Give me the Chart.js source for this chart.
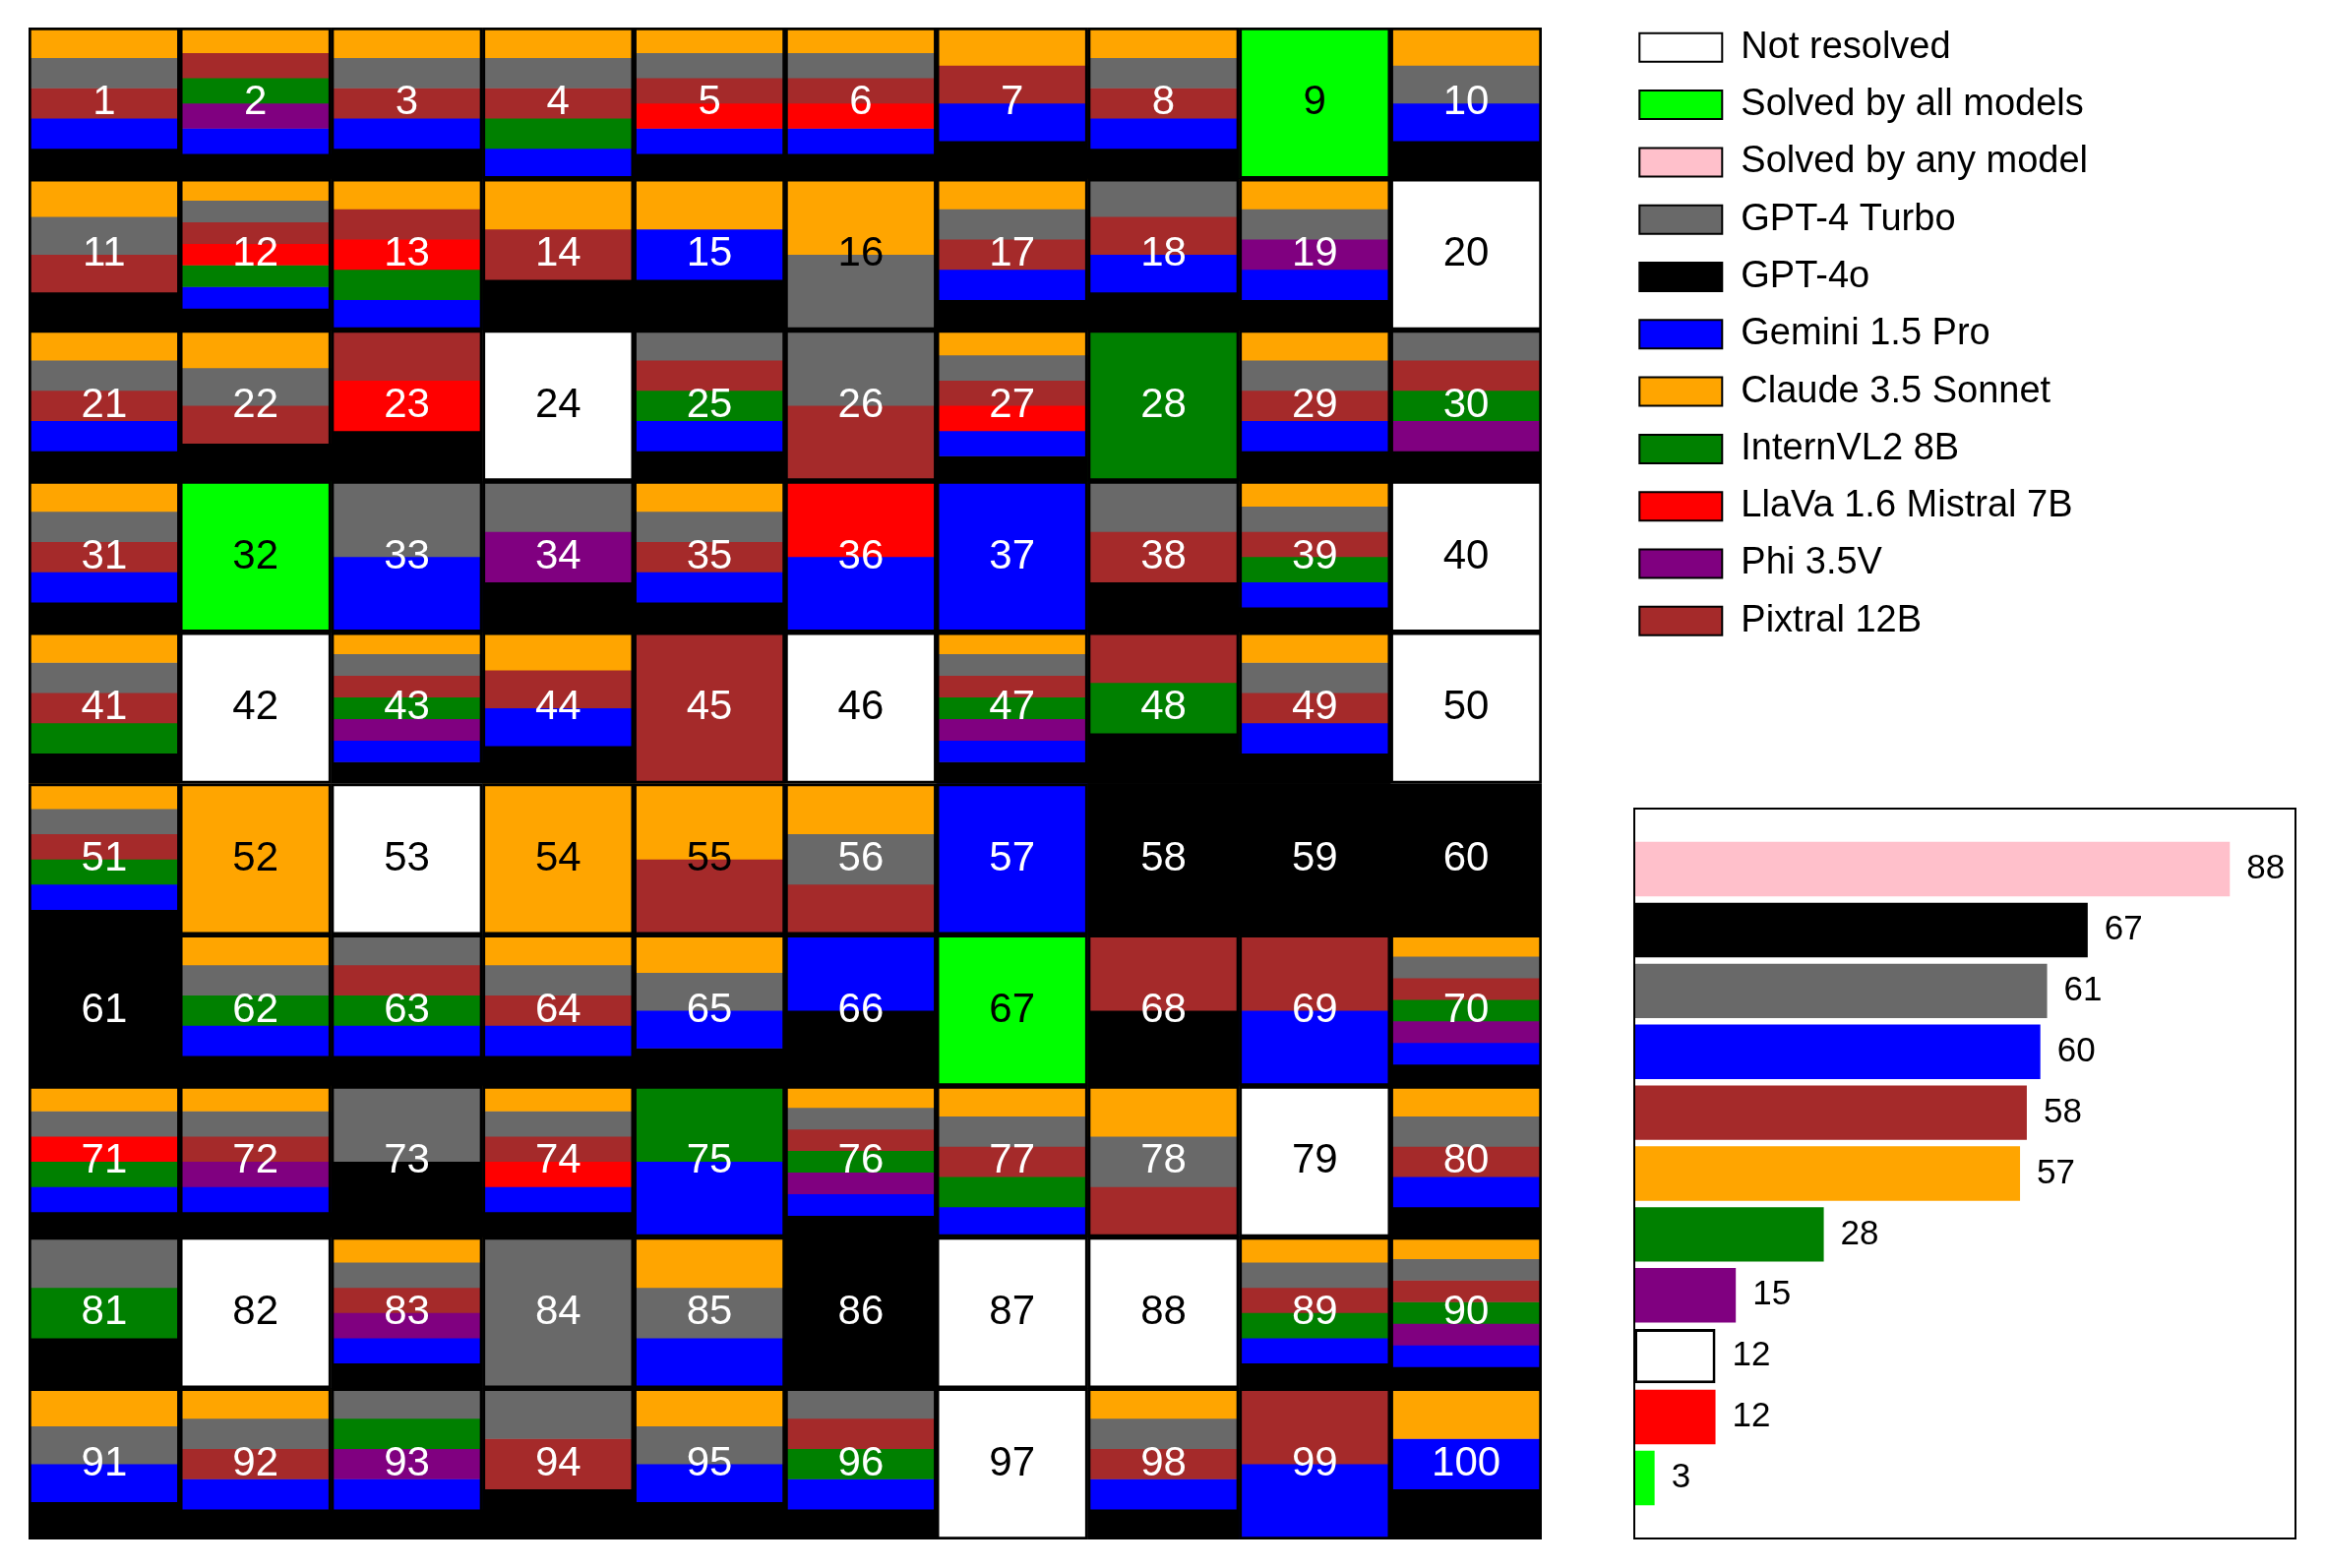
<!DOCTYPE html>
<html>
<head>
<meta charset="utf-8">
<title>Tasks solved per model</title>
<script src="https://cdn.jsdelivr.net/npm/chart.js@4.4.1/dist/chart.umd.min.js"></script>
<style>
  html, body { margin: 0; padding: 0; background: #fff; overflow: hidden; }
  #page { position: relative; width: 2363px; height: 1594px; }
  canvas { position: absolute; }
  #gridChart { left: 0; top: 0; }
  #legendChart { left: 1646px; top: 9px; }
  #countChart { left: 1640px; top: 780px; }
</style>
</head>
<body>
<div id="page">
  <canvas id="gridChart" width="1600" height="1594"></canvas>
  <canvas id="legendChart" width="717" height="720"></canvas>
  <canvas id="countChart" width="723" height="814"></canvas>
</div>
<script>
// grid: 100 tasks, 10 per row
const taskCount = 100;
const colLabels = ['1', '2', '3', '4', '5', '6', '7', '8', '9', '10'];

// order of the stripes inside a cell, top to bottom
const stripeOrder = ['Claude 3.5 Sonnet', 'GPT-4 Turbo', 'Pixtral 12B', 'LlaVa 1.6 Mistral 7B',
  'InternVL2 8B', 'Phi 3.5V', 'Gemini 1.5 Pro', 'GPT-4o'];

// tasks solved by each model
const solvedClaude = [1, 2, 3, 4, 5, 6, 7, 8, 9, 10, 11, 12, 13, 14, 15, 16, 17, 19, 21, 22, 27, 29,
  31, 32, 35, 39, 41, 43, 44, 47, 49, 51, 52, 54, 55, 56, 62, 64, 65, 67, 70, 71, 72, 74, 76, 77, 78, 80,
  83, 85, 89, 90, 91, 92, 95, 98, 100];
const solvedGpt4Turbo = [1, 3, 4, 5, 6, 8, 9, 10, 11, 12, 16, 17, 18, 19, 21, 22, 25, 26, 27, 29, 30,
  31, 32, 33, 34, 35, 38, 39, 41, 43, 47, 49, 51, 56, 62, 63, 64, 65, 67, 70, 71, 72, 73, 74, 76, 77, 78, 80,
  81, 83, 84, 85, 89, 90, 91, 92, 93, 94, 95, 96, 98];
const solvedPixtral = [1, 2, 3, 4, 5, 6, 7, 8, 9, 11, 12, 13, 14, 17, 18, 21, 22, 23, 25, 26, 27, 29, 30,
  31, 32, 35, 38, 39, 41, 43, 44, 45, 47, 48, 49, 51, 55, 56, 63, 64, 67, 68, 69, 70, 72, 74, 76, 77, 78, 80,
  83, 89, 90, 92, 94, 96, 98, 99];
const solvedLlava = [5, 6, 9, 12, 13, 23, 27, 32, 36, 67, 71, 74];
const solvedIntern = [2, 4, 9, 12, 13, 25, 28, 30, 32, 39, 41, 43, 47, 48, 51, 62, 63, 67, 70, 71, 75, 76,
  77, 81, 89, 90, 93, 96];
const solvedPhi = [2, 9, 19, 30, 32, 34, 43, 47, 67, 70, 72, 76, 83, 90, 93];
const solvedGemini = [1, 2, 3, 4, 5, 6, 7, 8, 9, 10, 12, 13, 15, 17, 18, 19, 21, 25, 27, 29, 31, 32, 33,
  35, 36, 37, 39, 43, 44, 47, 49, 51, 57, 62, 63, 64, 65, 66, 67, 69, 70, 71, 72, 74, 75, 76, 77, 80, 83, 85,
  89, 90, 91, 92, 93, 95, 96, 98, 99, 100];
const solvedGpt4o = [1, 2, 3, 5, 6, 7, 8, 9, 10, 11, 12, 14, 15, 17, 18, 19, 21, 22, 23, 25, 27, 29, 30,
  31, 32, 34, 35, 38, 39, 41, 43, 44, 47, 48, 49, 51, 58, 59, 60, 61, 62, 63, 64, 65, 66, 67, 68, 70, 71, 72,
  73, 74, 76, 80, 81, 83, 86, 89, 90, 91, 92, 93, 94, 95, 96, 98, 100];

// legend entries
const legendNames = ['Not resolved', 'Solved by all models', 'Solved by any model', 'GPT-4 Turbo', 'GPT-4o',
  'Gemini 1.5 Pro', 'Claude 3.5 Sonnet', 'InternVL2 8B', 'LlaVa 1.6 Mistral 7B', 'Phi 3.5V', 'Pixtral 12B'];

// summary bars
const countNames = ['Solved by any model', 'GPT-4o', 'GPT-4 Turbo', 'Gemini 1.5 Pro', 'Pixtral 12B',
  'Claude 3.5 Sonnet', 'InternVL2 8B', 'Phi 3.5V', 'Not resolved', 'LlaVa 1.6 Mistral 7B', 'Solved by all models'];
const countValues = [88, 67, 61, 60, 58, 57, 28, 15, 12, 12, 3];

const colors = {
  'Not resolved': '#ffffff',
  'Solved by all models': '#00ff00',
  'Solved by any model': '#ffc0cb',
  'GPT-4 Turbo': '#696969',
  'GPT-4o': '#000000',
  'Gemini 1.5 Pro': '#0000ff',
  'Claude 3.5 Sonnet': '#ffa500',
  'InternVL2 8B': '#008000',
  'LlaVa 1.6 Mistral 7B': '#ff0000',
  'Phi 3.5V': '#800080',
  'Pixtral 12B': '#a52a2a'
};
const darkText = ['#ffffff', '#00ff00', '#ffa500'];

Chart.defaults.font.family = '"Liberation Sans", sans-serif';
Chart.defaults.color = '#000';

const solvedBy = {
  'Claude 3.5 Sonnet': solvedClaude,
  'GPT-4 Turbo': solvedGpt4Turbo,
  'Pixtral 12B': solvedPixtral,
  'LlaVa 1.6 Mistral 7B': solvedLlava,
  'InternVL2 8B': solvedIntern,
  'Phi 3.5V': solvedPhi,
  'Gemini 1.5 Pro': solvedGemini,
  'GPT-4o': solvedGpt4o
};

const cells = [];
for (let t = 1; t <= taskCount; t++) {
  const row = Math.floor((t - 1) / colLabels.length);
  const col = (t - 1) % colLabels.length;
  const solvers = stripeOrder.filter(m => solvedBy[m].includes(t));
  cells.push({ task: t, row, col, solvers });
}

function cellBar(c, from, to) {
  return { x: colLabels[c.col], y: [c.row + from, c.row + to] };
}

const cellDefaults = {
  grouped: false,
  barPercentage: 1,
  categoryPercentage: 1,
  borderSkipped: false,
  borderWidth: 0,
  order: 1
};

const gridDatasets = [];
gridDatasets.push({
  ...cellDefaults,
  label: 'frame',
  data: cells.map(c => cellBar(c, 0, 1)),
  backgroundColor: 'rgba(0,0,0,0)',
  borderColor: '#000',
  borderWidth: 2.4,
  order: 0
});
gridDatasets.push({
  ...cellDefaults,
  label: 'Not resolved',
  data: cells.filter(c => c.solvers.length === 0).map(c => cellBar(c, 0, 1)),
  backgroundColor: colors['Not resolved']
});
gridDatasets.push({
  ...cellDefaults,
  label: 'Solved by all models',
  data: cells.filter(c => c.solvers.length === stripeOrder.length).map(c => cellBar(c, 0, 1)),
  backgroundColor: colors['Solved by all models']
});
stripeOrder.forEach(m => {
  const data = [];
  cells.forEach(c => {
    const n = c.solvers.length;
    if (n === 0 || n === stripeOrder.length) return;
    const k = c.solvers.indexOf(m);
    if (k < 0) return;
    data.push(cellBar(c, k / n, (k + 1) / n));
  });
  gridDatasets.push({ ...cellDefaults, label: m, data, backgroundColor: colors[m] });
});

const cellNumbers = {
  id: 'cellNumbers',
  afterDatasetsDraw(chart) {
    const { ctx, scales: { x, y } } = chart;
    ctx.save();
    ctx.font = '42px "Liberation Sans"';
    ctx.textAlign = 'center';
    ctx.textBaseline = 'middle';
    cells.forEach(c => {
      const n = c.solvers.length;
      let bg;
      if (n === 0) bg = colors['Not resolved'];
      else if (n === stripeOrder.length) bg = colors['Solved by all models'];
      else bg = colors[c.solvers[Math.floor((n - 1) / 2)]];
      ctx.fillStyle = darkText.includes(bg) ? '#000' : '#fff';
      ctx.fillText(String(c.task), x.getPixelForValue(c.col), y.getPixelForValue(c.row + 0.5));
    });
    ctx.restore();
  }
};

new Chart(document.getElementById('gridChart'), {
  type: 'bar',
  data: { labels: colLabels, datasets: gridDatasets },
  options: {
    responsive: false,
    animation: false,
    layout: { padding: { left: 29, top: 28, right: 33, bottom: 29 } },
    scales: {
      x: { type: 'category', display: false, offset: true },
      y: { type: 'linear', display: false, min: 0, max: 10, reverse: true }
    },
    plugins: { legend: { display: false }, tooltip: { enabled: false } }
  },
  plugins: [cellNumbers]
});

new Chart(document.getElementById('legendChart'), {
  type: 'bar',
  data: {
    labels: [],
    datasets: legendNames.map(n => ({
      label: n, data: [], backgroundColor: colors[n], borderColor: '#000', borderWidth: 2
    }))
  },
  options: {
    responsive: false,
    animation: false,
    layout: { padding: { top: 14 } },
    scales: { x: { display: false }, y: { display: false } },
    plugins: {
      tooltip: { enabled: false },
      legend: {
        position: 'chartArea',
        align: 'start',
        labels: {
          boxWidth: 84,
          boxHeight: 29,
          padding: 20.3,
          color: '#000',
          font: { size: 38 }
        }
      }
    }
  }
});

const countLabels = {
  id: 'countLabels',
  afterDatasetsDraw(chart) {
    const { ctx } = chart;
    ctx.save();
    ctx.font = '35px "Liberation Sans"';
    ctx.fillStyle = '#000';
    ctx.textAlign = 'left';
    ctx.textBaseline = 'middle';
    chart.getDatasetMeta(0).data.forEach((bar, i) => {
      ctx.fillText(String(countValues[i]), bar.x + 17, bar.y);
    });
    ctx.restore();
  }
};

const axesFrame = {
  id: 'axesFrame',
  afterDraw(chart) {
    const { ctx, chartArea: a } = chart;
    ctx.save();
    ctx.strokeStyle = '#000';
    ctx.lineWidth = 2;
    ctx.strokeRect(a.left, a.top, a.right - a.left, a.bottom - a.top);
    ctx.restore();
  }
};

new Chart(document.getElementById('countChart'), {
  type: 'bar',
  data: {
    datasets: [{
      data: countValues.map((v, i) => ({ x: v, y: i })),
      backgroundColor: countNames.map(n => colors[n]),
      borderColor: countNames.map(n => n === 'Not resolved' ? '#000' : colors[n]),
      borderWidth: countNames.map(n => n === 'Not resolved' ? 3 : 0),
      borderSkipped: false,
      barPercentage: 0.9,
      categoryPercentage: 1
    }]
  },
  options: {
    indexAxis: 'y',
    responsive: false,
    animation: false,
    layout: { padding: { left: 21, top: 42, right: 30, bottom: 30 } },
    scales: {
      x: { type: 'linear', display: false, min: 0, max: 97.7 },
      y: { type: 'linear', display: false, offset: false, min: -0.995, max: 10.995, reverse: true, ticks: { stepSize: 1 } }
    },
    plugins: { legend: { display: false }, tooltip: { enabled: false } }
  },
  plugins: [countLabels, axesFrame]
});
</script>
</body>
</html>
